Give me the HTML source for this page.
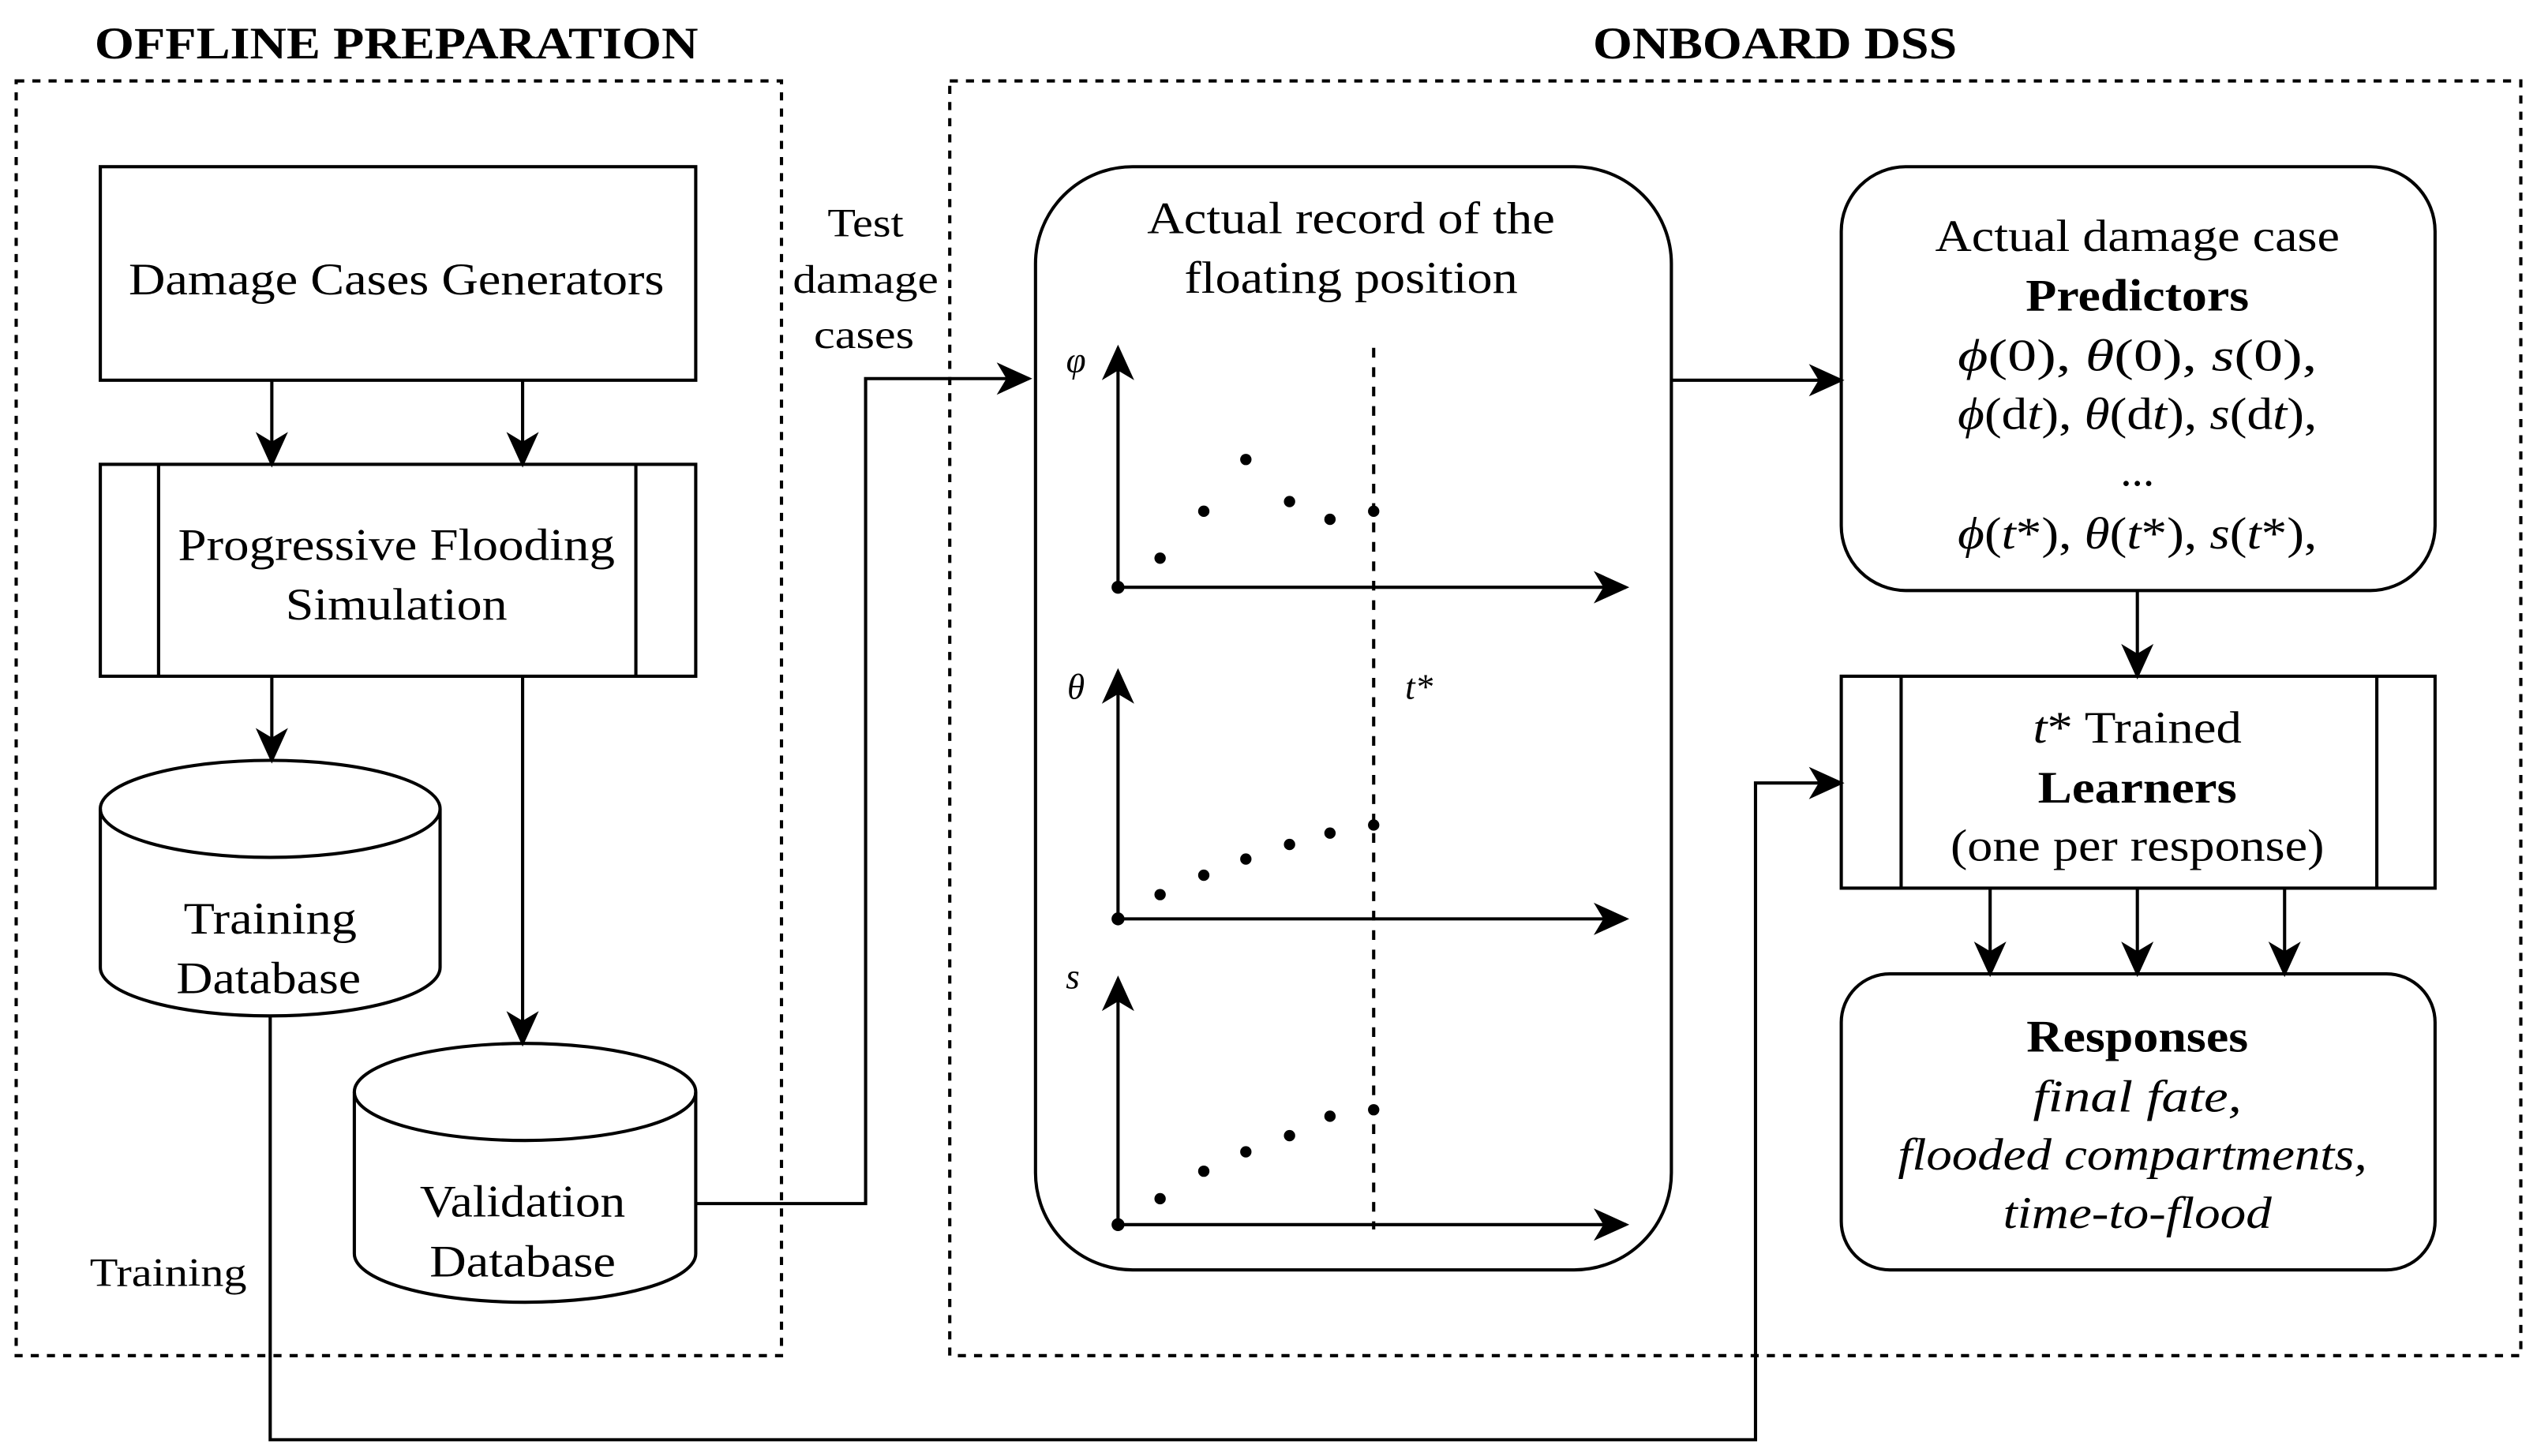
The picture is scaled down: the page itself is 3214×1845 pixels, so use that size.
<!DOCTYPE html>
<html><head><meta charset="utf-8"><style>html,body{margin:0;padding:0;background:#fff}svg{display:block}svg text{font-family:"Liberation Serif","Times New Roman",Times,serif}</style></head>
<body>
<svg width="3214" height="1845" viewBox="0 0 1568 900" xmlns="http://www.w3.org/2000/svg" font-size="28" text-anchor="middle">
<defs>
<marker id="b" markerWidth="22" markerHeight="22" refX="20" refY="11" orient="auto" markerUnits="userSpaceOnUse" viewBox="0 0 22 22">
<path d="M0,1 L22,11 L0,21 L6,11 Z" fill="#000"/></marker>
</defs>
<g fill="none" stroke="#000" stroke-width="2" stroke-dasharray="5,5">
<rect x="10" y="50" width="473" height="788"/>
<rect x="587" y="50" width="971" height="788"/>
</g>
<text x="245" y="36" font-weight="bold" textLength="373" lengthAdjust="spacingAndGlyphs">OFFLINE PREPARATION</text>
<text x="1097" y="36" font-weight="bold" textLength="225" lengthAdjust="spacingAndGlyphs">ONBOARD DSS</text>
<g fill="none" stroke="#000" stroke-width="2">
<rect x="62" y="103" width="368" height="132"/>
<rect x="62" y="287" width="368" height="131"/>
<line x1="98" y1="287" x2="98" y2="418"/><line x1="393" y1="287" x2="393" y2="418"/>
<path d="M62,500 A105,30 0 0 1 272,500 L272,598 A105,30 0 0 1 62,598 Z"/>
<path d="M62,500 A105,30 0 0 0 272,500"/>
<path d="M219,675 A105.5,30 0 0 1 430,675 L430,775 A105.5,30 0 0 1 219,775 Z"/>
<path d="M219,675 A105.5,30 0 0 0 430,675"/>
<rect x="640" y="103" width="393" height="682" rx="60"/>
<rect x="1138" y="103" width="367" height="262" rx="40"/>
<rect x="1138" y="418" width="367" height="131"/>
<line x1="1175" y1="418" x2="1175" y2="549"/><line x1="1469" y1="418" x2="1469" y2="549"/>
<rect x="1138" y="602" width="367" height="183" rx="30"/>
</g>
<g fill="none" stroke="#000" stroke-width="2" marker-end="url(#b)">
<line x1="168" y1="235" x2="168" y2="287"/>
<line x1="323" y1="235" x2="323" y2="287"/>
<line x1="168" y1="418" x2="168" y2="470"/>
<line x1="323" y1="418" x2="323" y2="645"/>
<path d="M167,628 L167,890 L1085,890 L1085,484 L1138,484"/>
<path d="M430,744 L535,744 L535,234 L636,234"/>
<line x1="1033" y1="235" x2="1138" y2="235"/>
<line x1="1321" y1="365" x2="1321" y2="418"/>
<line x1="1230" y1="549" x2="1230" y2="602"/>
<line x1="1321" y1="549" x2="1321" y2="602"/>
<line x1="1412" y1="549" x2="1412" y2="602"/>
</g>
<g fill="none" stroke="#000" stroke-width="2" marker-end="url(#b)">
<line x1="691" y1="363" x2="691" y2="215"/><line x1="691" y1="363" x2="1005" y2="363"/>
<line x1="691" y1="568" x2="691" y2="415"/><line x1="691" y1="568" x2="1005" y2="568"/>
<line x1="691" y1="757" x2="691" y2="605"/><line x1="691" y1="757" x2="1005" y2="757"/>
</g>
<line x1="849" y1="215" x2="849" y2="760" stroke="#000" stroke-width="2" stroke-dasharray="6,6"/>
<g fill="#000">
<circle cx="691" cy="363" r="4"/><circle cx="691" cy="568" r="4"/><circle cx="691" cy="757" r="4"/>
<circle cx="717" cy="345" r="3.5"/><circle cx="744" cy="316" r="3.5"/><circle cx="770" cy="284" r="3.5"/><circle cx="797" cy="310" r="3.5"/><circle cx="822" cy="321" r="3.5"/><circle cx="849" cy="316" r="3.5"/>
<circle cx="717" cy="553" r="3.5"/><circle cx="744" cy="541" r="3.5"/><circle cx="770" cy="531" r="3.5"/><circle cx="797" cy="522" r="3.5"/><circle cx="822" cy="515" r="3.5"/><circle cx="849" cy="510" r="3.5"/>
<circle cx="717" cy="741" r="3.5"/><circle cx="744" cy="724" r="3.5"/><circle cx="770" cy="712" r="3.5"/><circle cx="797" cy="702" r="3.5"/><circle cx="822" cy="690" r="3.5"/><circle cx="849" cy="686" r="3.5"/>
</g>
<g font-style="italic" font-size="22">
<text x="665" y="230">φ</text><text x="665" y="432">θ</text><text x="663" y="611">s</text><text x="877" y="432">t*</text>
</g>
<text x="245" y="182" textLength="331" lengthAdjust="spacingAndGlyphs">Damage Cases Generators</text>
<text x="245" y="346" textLength="270" lengthAdjust="spacingAndGlyphs">Progressive Flooding</text>
<text x="245" y="383" textLength="137" lengthAdjust="spacingAndGlyphs">Simulation</text>
<text x="167" y="577" textLength="107" lengthAdjust="spacingAndGlyphs">Training</text>
<text x="166" y="614" textLength="114" lengthAdjust="spacingAndGlyphs">Database</text>
<text x="323" y="752" textLength="127" lengthAdjust="spacingAndGlyphs">Validation</text>
<text x="323" y="789" textLength="115" lengthAdjust="spacingAndGlyphs">Database</text>
<text x="104" y="795" font-size="25" textLength="97" lengthAdjust="spacingAndGlyphs">Training</text>
<text x="535" y="146" font-size="25" textLength="47" lengthAdjust="spacingAndGlyphs">Test</text>
<text x="535" y="181" font-size="25" textLength="90" lengthAdjust="spacingAndGlyphs">damage</text>
<text x="534" y="215" font-size="25" textLength="62" lengthAdjust="spacingAndGlyphs">cases</text>
<text x="835" y="144" textLength="252" lengthAdjust="spacingAndGlyphs">Actual record of the</text>
<text x="835" y="181" textLength="206" lengthAdjust="spacingAndGlyphs">floating position</text>
<text x="1321" y="155" textLength="250" lengthAdjust="spacingAndGlyphs">Actual damage case</text>
<text x="1321" y="192" font-weight="bold" textLength="138" lengthAdjust="spacingAndGlyphs">Predictors</text>
<text x="1321" y="229" textLength="222" lengthAdjust="spacingAndGlyphs"><tspan font-style="italic">ϕ</tspan>(0), <tspan font-style="italic">θ</tspan>(0), <tspan font-style="italic">s</tspan>(0),</text>
<text x="1321" y="265" textLength="222" lengthAdjust="spacingAndGlyphs"><tspan font-style="italic">ϕ</tspan>(d<tspan font-style="italic">t</tspan>), <tspan font-style="italic">θ</tspan>(d<tspan font-style="italic">t</tspan>), <tspan font-style="italic">s</tspan>(d<tspan font-style="italic">t</tspan>),</text>
<text x="1321" y="300">...</text>
<text x="1321" y="339" textLength="222" lengthAdjust="spacingAndGlyphs"><tspan font-style="italic">ϕ</tspan>(<tspan font-style="italic">t</tspan>*), <tspan font-style="italic">θ</tspan>(<tspan font-style="italic">t</tspan>*), <tspan font-style="italic">s</tspan>(<tspan font-style="italic">t</tspan>*),</text>
<text x="1321" y="459" textLength="129" lengthAdjust="spacingAndGlyphs"><tspan font-style="italic">t</tspan>* Trained</text>
<text x="1321" y="496" font-weight="bold" textLength="123" lengthAdjust="spacingAndGlyphs">Learners</text>
<text x="1321" y="532" textLength="231" lengthAdjust="spacingAndGlyphs">(one per response)</text>
<text x="1321" y="650" font-weight="bold" textLength="137" lengthAdjust="spacingAndGlyphs">Responses</text>
<text x="1321" y="687" font-style="italic" textLength="129" lengthAdjust="spacingAndGlyphs">final fate,</text>
<text x="1318" y="723" font-style="italic" textLength="290" lengthAdjust="spacingAndGlyphs">flooded compartments,</text>
<text x="1321" y="759" font-style="italic" textLength="166" lengthAdjust="spacingAndGlyphs">time-to-flood</text>
</svg>
</body></html>
